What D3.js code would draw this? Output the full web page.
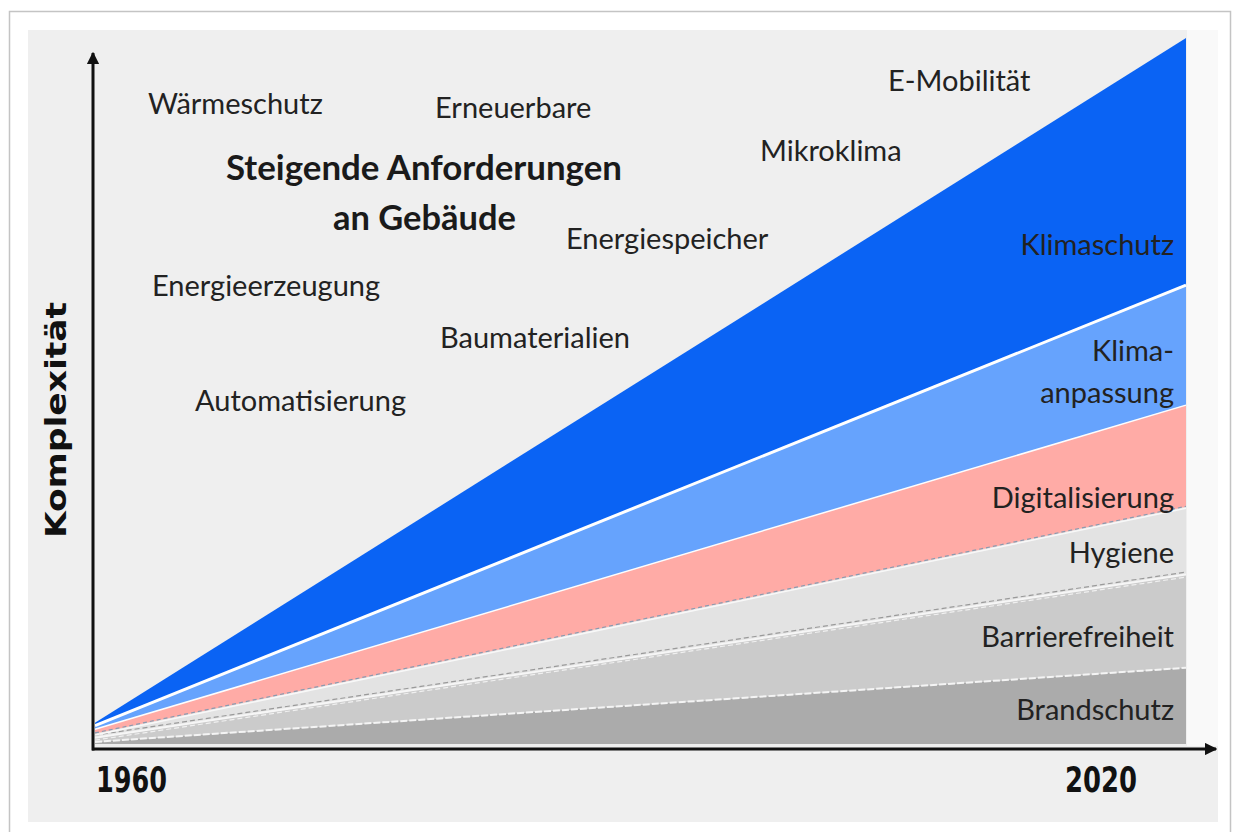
<!DOCTYPE html>
<html lang="de">
<head>
<meta charset="utf-8">
<title>Steigende Anforderungen an Gebäude</title>
<script src="https://cdn.jsdelivr.net/npm/d3@7"></script>
<style>
  html, body { margin: 0; padding: 0; background: #ffffff; }
  svg { display: block; }
  .lbl { font-family: Lato, "Open Sans", sans-serif; font-size: 29px; fill: #222; }
  .bold { font-family: Lato, "Open Sans", sans-serif; font-weight: 700; fill: #1a1a1a; }
  .heavy { font-family: "DejaVu Sans", Verdana, sans-serif; font-weight: 700; fill: #111; }
</style>
</head>
<body>
<svg id="chart" width="1237" height="832"></svg>
<script>
// Zeitachse
const years = [1960, 2020];
const yearLabels = ["1960", "2020"];

// Anforderungsbereiche, von unten nach oben gestapelt
const categories = ["Brandschutz", "Barrierefreiheit", "Hygiene", "Digitalisierung", "Klimaanpassung", "Klimaschutz"];

// Anteil an der Komplexität je Jahr (Index, Summe 2020 = 100)
const brandschutz      = [0.3, 10.8];
const barrierefreiheit = [0.6, 13.2];
const hygiene          = [0.6,  9.6];
const digitalisierung  = [0.6, 14.4];
const klimaanpassung   = [0.5, 17.0];
const klimaschutz      = [0.4, 35.0];

// Weitere Themen im Freiraum über den Flächen
const themes = ["Wärmeschutz", "Erneuerbare", "E-Mobilität", "Mikroklima", "Energiespeicher",
                "Energieerzeugung", "Baumaterialien", "Automatisierung"];

const seriesValues = [brandschutz, barrierefreiheit, hygiene, digitalisierung, klimaanpassung, klimaschutz];
const table = years.map((yr, i) => {
  const row = { year: yr };
  categories.forEach((c, k) => { row[c] = seriesValues[k][i]; });
  return row;
});

const colors = {
  "Brandschutz": "#ababab",
  "Barrierefreiheit": "#cbcbcb",
  "Hygiene": "#e3e3e3",
  "Digitalisierung": "#ffaba6",
  "Klimaanpassung": "#66a3fd",
  "Klimaschutz": "#0a63f4"
};

const svg = d3.select("#chart");

// Rahmen und Hintergrund
svg.append("rect").attr("x", 9.5).attr("y", 11.5).attr("width", 1221).attr("height", 830)
  .attr("fill", "#ffffff").attr("stroke", "#c4c4c4").attr("stroke-width", 1.5);
svg.append("rect").attr("x", 28).attr("y", 30).attr("width", 1190).attr("height", 792)
  .attr("fill", "#efefef");
svg.append("rect").attr("x", 1187).attr("y", 30).attr("width", 31).attr("height", 716)
  .attr("fill", "#f9f9f9");

const x = d3.scaleLinear().domain([1960, 2020]).range([95, 1186]);
const y = d3.scaleLinear().domain([0, 100]).range([744, 38]);

const stack = d3.stack().keys(categories);
const layers = stack(table);

const area = d3.area()
  .x(d => x(d.data.year))
  .y0(d => y(d[0]))
  .y1(d => y(d[1]));

svg.append("g").selectAll("path")
  .data(layers)
  .join("path")
  .attr("d", area)
  .attr("fill", d => colors[d.key]);

// Trennlinien zwischen den Flächen
const topLine = d3.line().x(d => x(d.data.year)).y(d => y(d[1]));
const edges = svg.append("g").attr("fill", "none");
const L = k => layers[categories.indexOf(k)];

edges.append("path").attr("d", topLine(L("Brandschutz")))
  .attr("stroke", "#f4f4f4").attr("stroke-width", 2).attr("stroke-dasharray", "7,2");
edges.append("path").attr("d", topLine(L("Barrierefreiheit")))
  .attr("stroke", "#f6f6f6").attr("stroke-width", 2);
edges.append("path").attr("d", topLine(L("Barrierefreiheit"))).attr("transform", "translate(0,-2.5)")
  .attr("stroke", "#9a9a9a").attr("stroke-width", 1.2).attr("stroke-dasharray", "5,3");
edges.append("path").attr("d", topLine(L("Barrierefreiheit"))).attr("transform", "translate(0,2.5)")
  .attr("stroke", "#f0f0f0").attr("stroke-width", 1.2).attr("stroke-dasharray", "5,3");
edges.append("path").attr("d", topLine(L("Hygiene"))).attr("transform", "translate(0,1.5)")
  .attr("stroke", "#f8f8f8").attr("stroke-width", 1.5);
edges.append("path").attr("d", topLine(L("Hygiene"))).attr("transform", "translate(0,-0.5)")
  .attr("stroke", "#8b9bb0").attr("stroke-width", 1.2).attr("stroke-dasharray", "4,3");
edges.append("path").attr("d", topLine(L("Digitalisierung")))
  .attr("stroke", "#fdfdfd").attr("stroke-width", 1.5);
edges.append("path").attr("d", topLine(L("Klimaanpassung")))
  .attr("stroke", "#ffffff").attr("stroke-width", 3);

// Achsen mit Pfeilspitzen
const defs = svg.append("defs");
defs.append("marker").attr("id", "arrow").attr("viewBox", "0 0 10 10")
  .attr("refX", 9).attr("refY", 5).attr("markerWidth", 4.2).attr("markerHeight", 4.2)
  .attr("orient", "auto-start-reverse").attr("markerUnits", "strokeWidth")
  .append("path").attr("d", "M0,0 L10,5 L0,10 Z").attr("fill", "#111");

const axisY = 749;
svg.append("line").attr("x1", 93).attr("y1", axisY + 1.5).attr("x2", 93).attr("y2", 53)
  .attr("stroke", "#111").attr("stroke-width", 3).attr("marker-end", "url(#arrow)");
svg.append("line").attr("x1", 92).attr("y1", axisY).attr("x2", 1216).attr("y2", axisY)
  .attr("stroke", "#111").attr("stroke-width", 3).attr("marker-end", "url(#arrow)");

// Jahreszahlen
svg.append("text").attr("class", "heavy").attr("x", x(years[0]) + 1).attr("y", 792)
  .attr("font-size", 36).attr("text-anchor", "start")
  .attr("textLength", 71).attr("lengthAdjust", "spacingAndGlyphs").text(yearLabels[0]);
svg.append("text").attr("class", "heavy").attr("x", x(years[1]) - 121).attr("y", 792)
  .attr("font-size", 36).attr("text-anchor", "start")
  .attr("textLength", 72).attr("lengthAdjust", "spacingAndGlyphs").text(yearLabels[1]);

// Achsentitel
svg.append("text").attr("class", "heavy")
  .attr("transform", "translate(66,538) rotate(-90)")
  .attr("text-anchor", "start").attr("font-size", 28)
  .attr("textLength", 236).attr("lengthAdjust", "spacingAndGlyphs")
  .text("Komplexität");

// Titel
svg.append("text").attr("class", "bold").attr("x", 226).attr("y", 180)
  .attr("font-size", 35).attr("textLength", 396).attr("lengthAdjust", "spacingAndGlyphs")
  .text("Steigende Anforderungen");
svg.append("text").attr("class", "bold").attr("x", 333).attr("y", 230)
  .attr("font-size", 35).attr("textLength", 183).attr("lengthAdjust", "spacingAndGlyphs")
  .text("an Gebäude");

// Themen im Freiraum
const themePos = [[148, 114], [435, 118], [888, 91], [760, 161], [566, 249], [152, 296], [440, 348], [195, 411]];
svg.append("g").selectAll("text")
  .data(themes)
  .join("text")
  .attr("class", "lbl")
  .attr("x", (d, i) => themePos[i][0])
  .attr("y", (d, i) => themePos[i][1])
  .text(d => d);

// Beschriftung der Flächen, rechtsbündig
const bandLabels = [
  { text: "Brandschutz", y: 720 },
  { text: "Barrierefreiheit", y: 647 },
  { text: "Hygiene", y: 563 },
  { text: "Digitalisierung", y: 508 },
  { text: "anpassung", y: 403 },
  { text: "Klima-", y: 361 },
  { text: "Klimaschutz", y: 255 }
];
svg.append("g").selectAll("text")
  .data(bandLabels)
  .join("text")
  .attr("class", "lbl")
  .attr("x", 1174)
  .attr("y", d => d.y)
  .attr("text-anchor", "end")
  .text(d => d.text);
</script>
</body>
</html>
